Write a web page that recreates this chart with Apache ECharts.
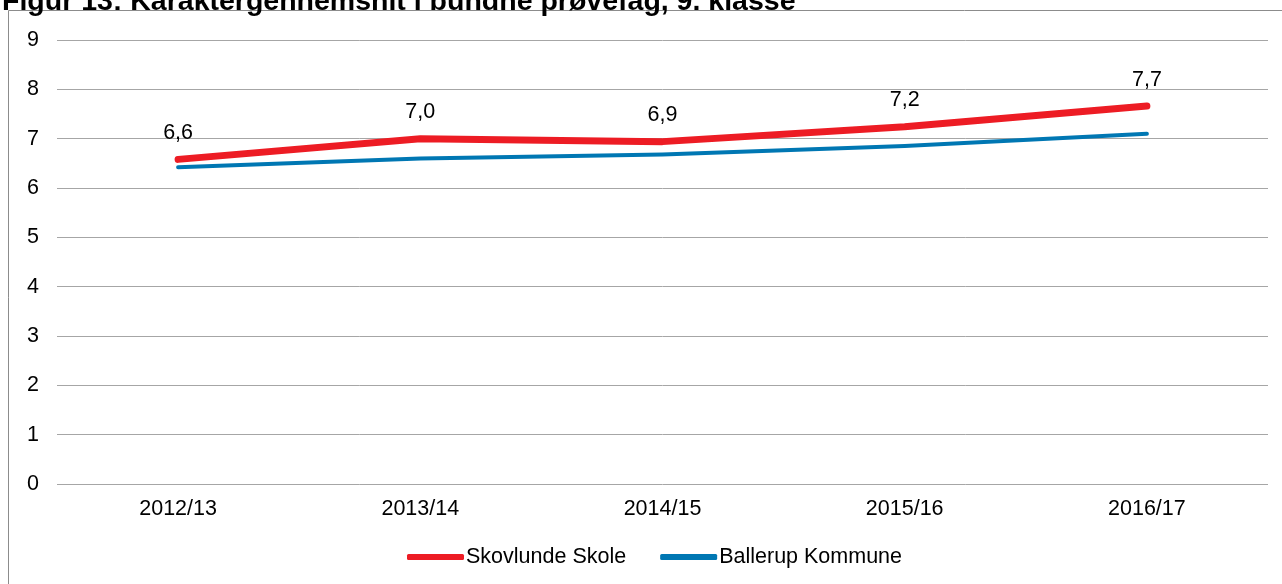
<!DOCTYPE html>
<html><head><meta charset="utf-8">
<script src="https://cdn.jsdelivr.net/npm/echarts@6/dist/echarts.min.js"></script>
<style>html,body{margin:0;padding:0;background:#fff;}#c{width:1282px;height:584px;}</style>
</head><body><div id="c"></div>
<script>
const categories = ['2012/13','2013/14','2014/15','2015/16','2016/17'];
const skovlunde = [6.58, 7.00, 6.94, 7.24, 7.66];
const ballerup = [6.42, 6.60, 6.68, 6.85, 7.10];
const skovlundeLabels = ['6,6','7,0','6,9','7,2','7,7'];
const titleText = 'Figur 13: Karaktergennemsnit i bundne prøvefag, 9. klasse';
const FONT = '"Liberation Sans", Arial, sans-serif';

const chart = echarts.init(document.getElementById('c'), null, {renderer:'canvas'});
chart.setOption({
  animation:false,
  backgroundColor:'#fff',
  title:{text:titleText, left:2, top:-12, padding:0, textStyle:{fontFamily:FONT, fontSize:28.5, fontWeight:'bold', color:'#000'}},
  graphic:[{type:'rect', shape:{x:8.5, y:10.5, width:1300, height:600}, style:{fill:'none', stroke:'#8c8c8c', lineWidth:1}, silent:true, z:-1}],
  grid:{left:57, right:14, top:40, bottom:100, containLabel:false},
  legend:{
    bottom:11, left:402, itemGap:34, itemWidth:57, itemHeight:6,
    textStyle:{fontFamily:FONT, fontSize:21.5, color:'#000', padding:[0,0,0,-3]},
    data:[{name:'Skovlunde Skole', icon:'roundRect'},{name:'Ballerup Kommune', icon:'roundRect'}]
  },
  xAxis:{type:'category', data:categories, boundaryGap:true,
    axisLine:{show:false}, axisTick:{show:false},
    axisLabel:{fontFamily:FONT, fontSize:21.5, color:'#000', margin:14}},
  yAxis:{type:'value', min:0, max:9, interval:1,
    axisLine:{show:false}, axisTick:{show:false},
    axisLabel:{fontFamily:FONT, fontSize:21.5, color:'#000', margin:18, align:'right'},
    splitLine:{lineStyle:{color:'#a6a6a6', width:1}}},
  series:[
    {name:'Skovlunde Skole', type:'line', data:skovlunde, symbol:'circle', symbolSize:1, showSymbol:true, z:3,
      itemStyle:{color:'#ed1c24'},
      lineStyle:{color:'#ed1c24', width:7, cap:'round', join:'round'},
      label:{show:true, position:'top', distance:15, fontFamily:FONT, fontSize:21.5, color:'#000',
        formatter:(p)=>skovlundeLabels[p.dataIndex]}},
    {name:'Ballerup Kommune', type:'line', data:ballerup, symbol:'none', z:2,
      itemStyle:{color:'#0077b3'},
      lineStyle:{color:'#0077b3', width:4, cap:'round', join:'round'}}
  ]
});
</script></body></html>
